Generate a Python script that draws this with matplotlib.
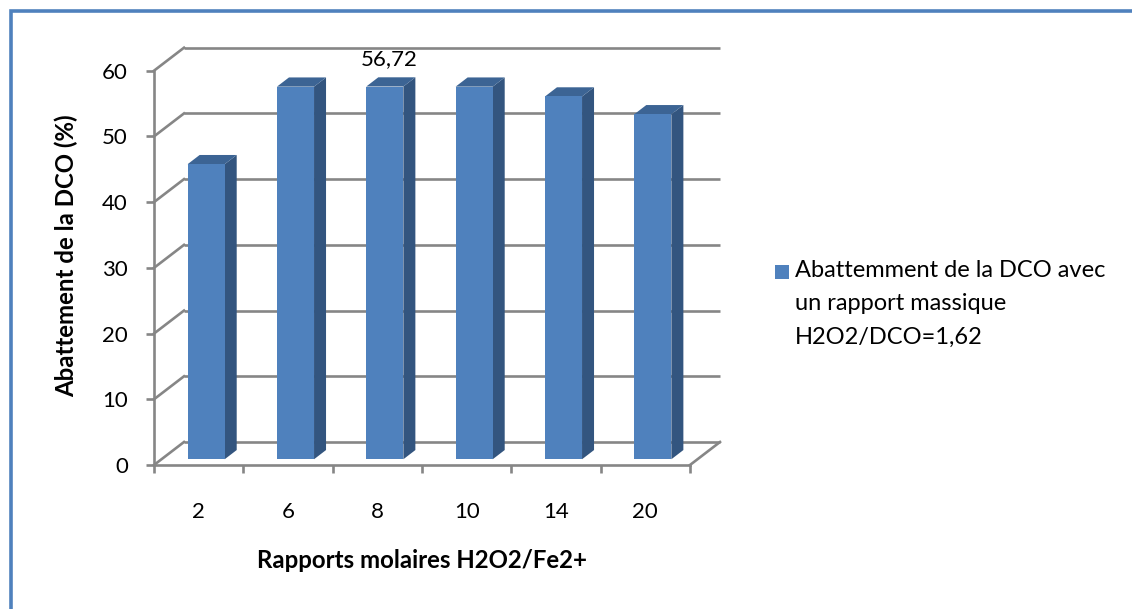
import matplotlib
matplotlib.use("Agg")
import matplotlib.pyplot as plt
from matplotlib.patches import Polygon, Rectangle

# ---- data ----
categories = ["2", "6", "8", "10", "14", "20"]
values = [44.9, 56.7, 56.72, 56.7, 55.2, 52.5]
label_index = 2
label_text = "56,72"
y_ticks = [0, 10, 20, 30, 40, 50, 60]
y_label = "Abattement de la DCO (%)"
x_label = "Rapports molaires H2O2/Fe2+"
legend_label = "Abattemment de la DCO avec\nun rapport massique\nH2O2/DCO=1,62"

# ---- style ----
W, H = 1132, 609
plt.rcParams['font.family'] = ['Lato', 'DejaVu Sans']
FRONT = '#4F81BD'
SIDE = '#33557F'
TOP = '#3C6494'
GRID = '#868686'
FS = 16
FS_TITLE = 17.3
FS_LEG = 17

fig = plt.figure(figsize=(W / 100, H / 100), dpi=100)
fig.patch.set_facecolor('white')

L, R, B, T = 154, 690, 465, 70.7
ax = fig.add_axes([L / W, 1 - B / H, (R - L) / W, (B - T) / H])
n = len(categories)
ax.set_xlim(0, n)
ax.set_ylim(0, 60)
ax.set_facecolor('none')

px_x = (R - L) / n
px_y = (B - T) / 60
DX = 30 / px_x
DY = 23 / px_y

lw = 1.9
# back wall gridlines and left-wall diagonals
for v in y_ticks:
    ax.plot([DX, n + DX], [v + DY, v + DY], color=GRID, lw=lw, clip_on=False, zorder=1,
            solid_capstyle='butt')
    ax.plot([0, DX], [v, v + DY], color=GRID, lw=lw, clip_on=False, zorder=1)
ax.plot([n, n + DX], [0, DY], color=GRID, lw=lw, clip_on=False, zorder=1)

# bars
f0 = 0.25
depth = 0.40
bw = 0.415
base = f0 * DY
xs = [i + 0.5 + f0 * DX for i in range(n)]
bars = ax.bar(xs, values, width=bw, bottom=base, color=FRONT, zorder=5, clip_on=False)
for x, v in zip(xs, values):
    x0, x1 = x - bw / 2, x + bw / 2
    ddx, ddy = depth * DX, depth * DY
    top_y = base + v
    side = Polygon([(x1, base), (x1 + ddx, base + ddy), (x1 + ddx, top_y + ddy), (x1, top_y)],
                   closed=True, facecolor=SIDE, edgecolor='none', zorder=4, clip_on=False)
    top = Polygon([(x0, top_y), (x1, top_y), (x1 + ddx, top_y + ddy), (x0 + ddx, top_y + ddy)],
                  closed=True, facecolor=TOP, edgecolor='none', zorder=4, clip_on=False)
    ax.add_patch(side)
    ax.add_patch(top)

# value label
ax.annotate(label_text, xy=(xs[label_index] + depth * DX / 2, base + values[label_index] + depth * DY),
            xytext=(-2, 8), textcoords='offset pixels', ha='center', va='bottom',
            fontsize=FS, color='black', zorder=6, annotation_clip=False)

# spines / ticks
for s in ['top', 'right']:
    ax.spines[s].set_visible(False)
for s in ['left', 'bottom']:
    ax.spines[s].set_color(GRID)
    ax.spines[s].set_linewidth(lw)
    ax.spines[s].set_zorder(7)
ax.set_yticks(y_ticks)
ax.set_yticklabels([str(t) for t in y_ticks])
ax.set_xticks(range(n + 1))
ax.set_xticklabels([''] * (n + 1))
ax.set_xticks([i + 0.5 for i in range(n)], minor=True)
ax.set_xticklabels(categories, minor=True)
ax.tick_params(axis='y', which='major', length=8 * 0.72, width=lw, color=GRID, pad=13,
               labelsize=FS)
ax.tick_params(axis='x', which='major', length=8 * 0.72, width=lw, color=GRID)
ax.tick_params(axis='x', which='minor', length=0, pad=27, labelsize=FS)

# axis titles
fig.text(66 / W, 1 - 256 / H, y_label, rotation=90, ha='center', va='center',
         fontsize=FS_TITLE, fontweight='bold')
fig.text(422 / W, 1 - 560 / H, x_label, ha='center', va='center',
         fontsize=FS_TITLE, fontweight='bold')

# legend
fig.patches.append(Rectangle((775 / W, 1 - 279 / H), 14 / W, 14 / H, transform=fig.transFigure,
                             facecolor=FRONT, edgecolor='none'))
fig.text(795 / W, 1 - 260 / H, legend_label, ha='left', va='top', fontsize=FS_LEG,
         linespacing=1.72)

# frame border
fig.patches.append(Rectangle((10.5 / W, -0.5), 1.5, 1.5 - 11 / H, transform=fig.transFigure,
                             facecolor='none', edgecolor='#4F81BD', lw=2.6))

fig.savefig('out.png', dpi=100)
